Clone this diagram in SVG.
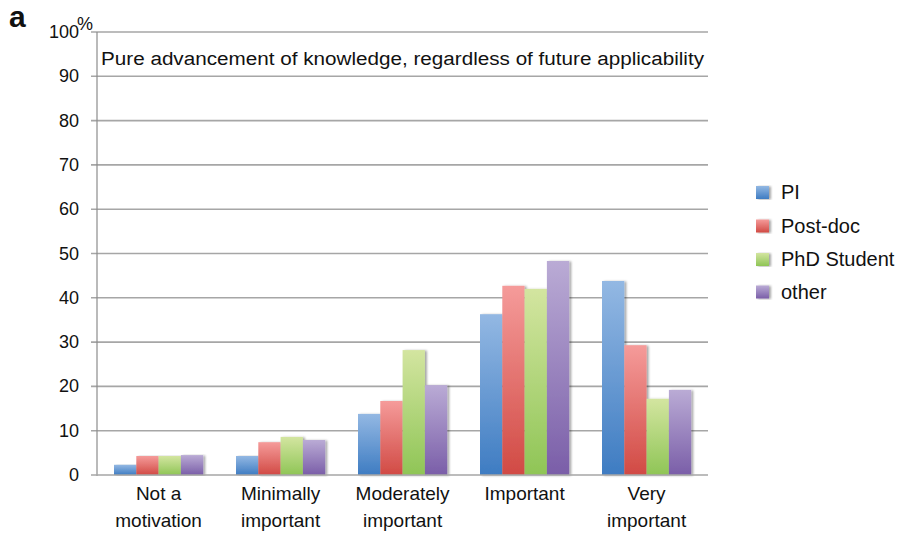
<svg xmlns="http://www.w3.org/2000/svg" width="901" height="538" viewBox="0 0 901 538">
<defs>
<linearGradient id="gB" x1="0" y1="0" x2="0" y2="1"><stop offset="0" stop-color="#93b8e3"/><stop offset="1" stop-color="#3e7cc2"/></linearGradient>
<linearGradient id="gR" x1="0" y1="0" x2="0" y2="1"><stop offset="0" stop-color="#f59b9a"/><stop offset="1" stop-color="#d14a44"/></linearGradient>
<linearGradient id="gG" x1="0" y1="0" x2="0" y2="1"><stop offset="0" stop-color="#d3e5a0"/><stop offset="1" stop-color="#8fc556"/></linearGradient>
<linearGradient id="gP" x1="0" y1="0" x2="0" y2="1"><stop offset="0" stop-color="#baabd5"/><stop offset="1" stop-color="#7a5ea8"/></linearGradient>
<filter id="sh" x="-20%" y="-5%" width="150%" height="110%"><feDropShadow dx="2" dy="0.5" stdDeviation="0.8" flood-color="#000" flood-opacity="0.35"/></filter>
</defs>
<style>
text{font-family:"Liberation Sans",Arial,sans-serif;fill:#111}
.grid{stroke:#a6a6a6;stroke-width:1.6}
.ax{stroke:#8c8c8c;stroke-width:1.2}
.yl{font-size:18px;text-anchor:end}
.xl{font-size:19px;text-anchor:middle}
.lg{font-size:20px}
.b{filter:url(#sh)}
.pi{fill:url(#gB)}.pd{fill:url(#gR)}.ph{fill:url(#gG)}.ot{fill:url(#gP)}
</style>
<rect width="901" height="538" fill="#fff"/>
<text x="9" y="27" style="font-size:30px;font-weight:bold">a</text>
<g id="grid">
<line class="grid" x1="91" y1="32" x2="708" y2="32"/>
<line class="grid" x1="91" y1="76.3" x2="708" y2="76.3"/>
<line class="grid" x1="91" y1="120.6" x2="708" y2="120.6"/>
<line class="grid" x1="91" y1="164.9" x2="708" y2="164.9"/>
<line class="grid" x1="91" y1="209.2" x2="708" y2="209.2"/>
<line class="grid" x1="91" y1="253.5" x2="708" y2="253.5"/>
<line class="grid" x1="91" y1="297.8" x2="708" y2="297.8"/>
<line class="grid" x1="91" y1="342.1" x2="708" y2="342.1"/>
<line class="grid" x1="91" y1="386.4" x2="708" y2="386.4"/>
<line class="grid" x1="91" y1="430.7" x2="708" y2="430.7"/>
</g>
<g id="ylabels">
<text class="yl" x="79" y="38">100</text>
<text x="77" y="30" style="font-size:18px">%</text>
<text class="yl" x="79" y="82.3">90</text>
<text class="yl" x="79" y="126.6">80</text>
<text class="yl" x="79" y="170.9">70</text>
<text class="yl" x="79" y="215.2">60</text>
<text class="yl" x="79" y="259.5">50</text>
<text class="yl" x="79" y="303.8">40</text>
<text class="yl" x="79" y="348.1">30</text>
<text class="yl" x="79" y="392.4">20</text>
<text class="yl" x="79" y="436.7">10</text>
<text class="yl" x="79" y="481">0</text>
</g>
<text x="101" y="65" style="font-size:18px" textLength="603" lengthAdjust="spacingAndGlyphs">Pure advancement of knowledge, regardless of future applicability</text>
<g id="bars">
<g id="g1">
<rect class="b pi" x="114" y="464.8" width="22.3" height="10.2"/>
<rect class="b pd" x="136.3" y="456" width="22.3" height="19"/>
<rect class="b ph" x="158.6" y="456" width="22.3" height="19"/>
<rect class="b ot" x="180.9" y="455.1" width="22.3" height="19.9"/>
</g>
<g id="g2">
<rect class="b pi" x="236" y="456" width="22.3" height="19"/>
<rect class="b pd" x="258.3" y="442.2" width="22.3" height="32.8"/>
<rect class="b ph" x="280.6" y="436.9" width="22.3" height="38.1"/>
<rect class="b ot" x="302.9" y="440" width="22.3" height="35"/>
</g>
<g id="g3">
<rect class="b pi" x="358" y="413.9" width="22.3" height="61.1"/>
<rect class="b pd" x="380.3" y="401" width="22.3" height="74"/>
<rect class="b ph" x="402.6" y="350.1" width="22.3" height="124.9"/>
<rect class="b ot" x="424.9" y="385.1" width="22.3" height="89.9"/>
</g>
<g id="g4">
<rect class="b pi" x="480" y="314.2" width="22.3" height="160.8"/>
<rect class="b pd" x="502.3" y="285.8" width="22.3" height="189.2"/>
<rect class="b ph" x="524.6" y="288.9" width="22.3" height="186.1"/>
<rect class="b ot" x="546.9" y="261" width="22.3" height="214"/>
</g>
<g id="g5">
<rect class="b pi" x="602" y="281" width="22.3" height="194"/>
<rect class="b pd" x="624.3" y="345.2" width="22.3" height="129.8"/>
<rect class="b ph" x="646.6" y="398.8" width="22.3" height="76.2"/>
<rect class="b ot" x="668.9" y="389.9" width="22.3" height="85.1"/>
</g>
</g>
<g id="axes">
<line class="ax" x1="97" y1="32" x2="97" y2="476"/>
<line class="grid" x1="91" y1="475" x2="708" y2="475"/>
</g>
<g id="xlabels">
<text class="xl" x="158.6" y="500">Not a</text>
<text class="xl" x="158.6" y="527">motivation</text>
<text class="xl" x="280.6" y="500">Minimally</text>
<text class="xl" x="280.6" y="527">important</text>
<text class="xl" x="402.6" y="500">Moderately</text>
<text class="xl" x="402.6" y="527">important</text>
<text class="xl" x="524.6" y="500">Important</text>
<text class="xl" x="646.6" y="500">Very</text>
<text class="xl" x="646.6" y="527">important</text>
</g>
<g id="legend">
<g id="lg-pi"><rect class="b pi" x="756" y="186" width="13" height="13"/><text class="lg" x="781" y="199">PI</text></g>
<g id="lg-pd"><rect class="b pd" x="756" y="219.5" width="13" height="13"/><text class="lg" x="781" y="232.5">Post-doc</text></g>
<g id="lg-ph"><rect class="b ph" x="756" y="253" width="13" height="13"/><text class="lg" x="781" y="266">PhD Student</text></g>
<g id="lg-ot"><rect class="b ot" x="756" y="285.5" width="13" height="13"/><text class="lg" x="781" y="298.5">other</text></g>
</g>
</svg>
